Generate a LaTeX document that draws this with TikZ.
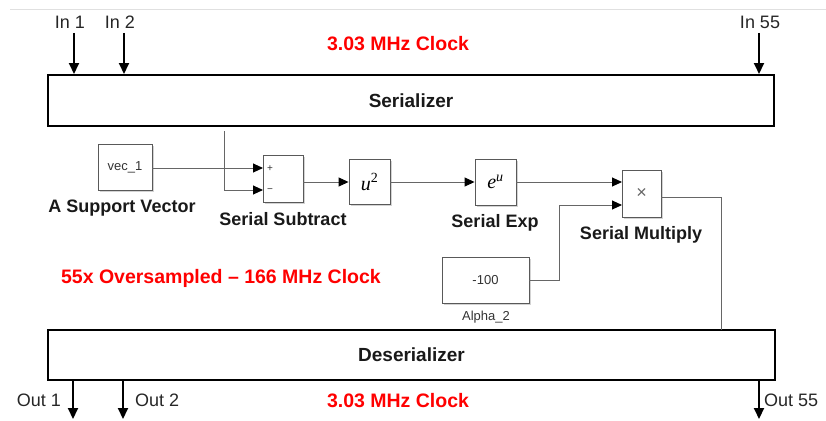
\documentclass[tikz,border=0pt]{standalone}
\usepackage{fontspec}
\setmainfont{Liberation Sans}
\newfontfamily\serifit{Liberation Serif}
\usetikzlibrary{arrows.meta,shadows}
\begin{document}
\begin{tikzpicture}[x=1pt,y=-1pt,
  bigbox/.style={draw=black,line width=2pt,fill=white,inner sep=0pt,font=\fontsize{19}{21}\selectfont\bfseries,text=black!90},
  blk/.style={draw=black!65,line width=0.9pt,fill=white,inner sep=0pt,drop shadow={shadow xshift=1.5pt,shadow yshift=-1.5pt,opacity=0.35}},
  sig/.style={draw=black!60,line width=0.9pt,-{Triangle[length=10pt,width=9pt,color=black]}},
  wire/.style={draw=black!60,line width=0.9pt},
  port/.style={line width=2pt,-{Triangle[length=11pt,width=10pt]}},
  lbl/.style={font=\fontsize{18}{20}\selectfont\bfseries,text=black!90,inner sep=0pt},
  redlbl/.style={font=\fontsize{19.5}{22}\selectfont\bfseries,text=red,inner sep=0pt},
  iolbl/.style={font=\fontsize{18}{20}\selectfont,text=black!85,inner sep=0pt},
  small/.style={font=\fontsize{13}{15}\selectfont,text=black!80,inner sep=0pt},
  sign/.style={font=\fontsize{10}{11}\selectfont,text=black!80,inner sep=0pt},
]
\useasboundingbox (0,0) rectangle (826,420);
\draw[black!12,line width=0.8pt] (10,9) -- (826,9);

% big boxes
\node[bigbox,minimum width=726pt,minimum height=51pt] (ser) at (411,100.5) {Serializer};
\node[bigbox,minimum width=727pt,minimum height=50pt] (des) at (411.5,355) {Deserializer};

% input ports
\node[iolbl] (li1) at (70,22) {In 1};
\node[iolbl] (li2) at (120,22) {In 2};
\node[iolbl] (li55) at (760,22) {In 55};
\coordinate (i1) at (74,33);
\coordinate (i2) at (124,33);
\coordinate (i55) at (759,33);
\draw[port] (i1) -- (i1 |- ser.north);
\draw[port] (i2) -- (i2 |- ser.north);
\draw[port] (i55) -- (i55 |- ser.north);

% output ports
\coordinate (o1) at (73,419);
\coordinate (o2) at (123,419);
\coordinate (o55) at (759,419);
\draw[port] (o1 |- des.south) -- (o1);
\draw[port] (o2 |- des.south) -- (o2);
\draw[port] (o55 |- des.south) -- (o55);
\node[iolbl,anchor=east] (lo1) at (61,400) {Out 1};
\node[iolbl,anchor=west] (lo2) at (135,400) {Out 2};
\node[iolbl,anchor=west] (lo55) at (764,400) {Out 55};

% clock labels
\node[redlbl] (clk1) at (398,44) {3.03 MHz Clock};
\node[redlbl] (clk2) at (398,401) {3.03 MHz Clock};
\node[redlbl] (clk3) at (221,278) {55x Oversampled – 166 MHz Clock};

% simulink blocks
\node[blk,minimum width=54pt,minimum height=46pt,small] (vec) at (125,167) {vec\_1};
\node[blk,minimum width=40pt,minimum height=47pt] (sub) at (283,178.5) {};
\node[sign] (plus) at (270,169) {+};
\node[sign] (minus) at (270,191) {−};
\node[blk,minimum width=41pt,minimum height=45pt,font=\fontsize{20}{22}\selectfont] (sq) at (369.5,182) {\serifit\itshape u\textsuperscript{\upshape 2}};
\node[blk,minimum width=41pt,minimum height=46pt,font=\fontsize{20}{22}\selectfont] (ex) at (495.5,182) {\serifit\itshape e\textsuperscript{u}};
\node[blk,minimum width=39pt,minimum height=47pt,font=\fontsize{18}{20}\selectfont,text=black!60] (mul) at (641.5,193.5) {×};
\node[blk,minimum width=87pt,minimum height=46pt,small] (alpha) at (485.5,280) {-100};

% block labels
\node[lbl] (lvec) at (122,208) {A Support Vector};
\node[lbl] (lsub) at (283,219) {Serial Subtract};
\node[lbl] (lex) at (495,223) {Serial Exp};
\node[lbl] (lmul) at (641,235) {Serial Multiply};
\node[small] (lalpha) at (486,317) {Alpha\_2};

% signal coordinates
\coordinate (subp) at (263,168);
\coordinate (subm) at (263,190);
\coordinate (br) at (224,131);
\coordinate (mul1) at (622,182);
\coordinate (mul2) at (622,205);
\coordinate (kink) at (559,205);
\coordinate (mulout) at (661,197);
\coordinate (fb) at (721,330);

% signals
\draw[sig] (vec.east |- subp) -- (subp);
\draw[sig] (br) |- (subm);
\draw[sig] (sq.west -| sub.east) -- (sq.west);
\draw[sig] (sq.east) -- (ex.west);
\draw[sig] (ex.east |- mul1) -- (mul1);
\draw[sig] (alpha.east) -| (kink) -- (mul2);
\draw[wire] (mulout) -| (fb);
\end{tikzpicture}
\end{document}
